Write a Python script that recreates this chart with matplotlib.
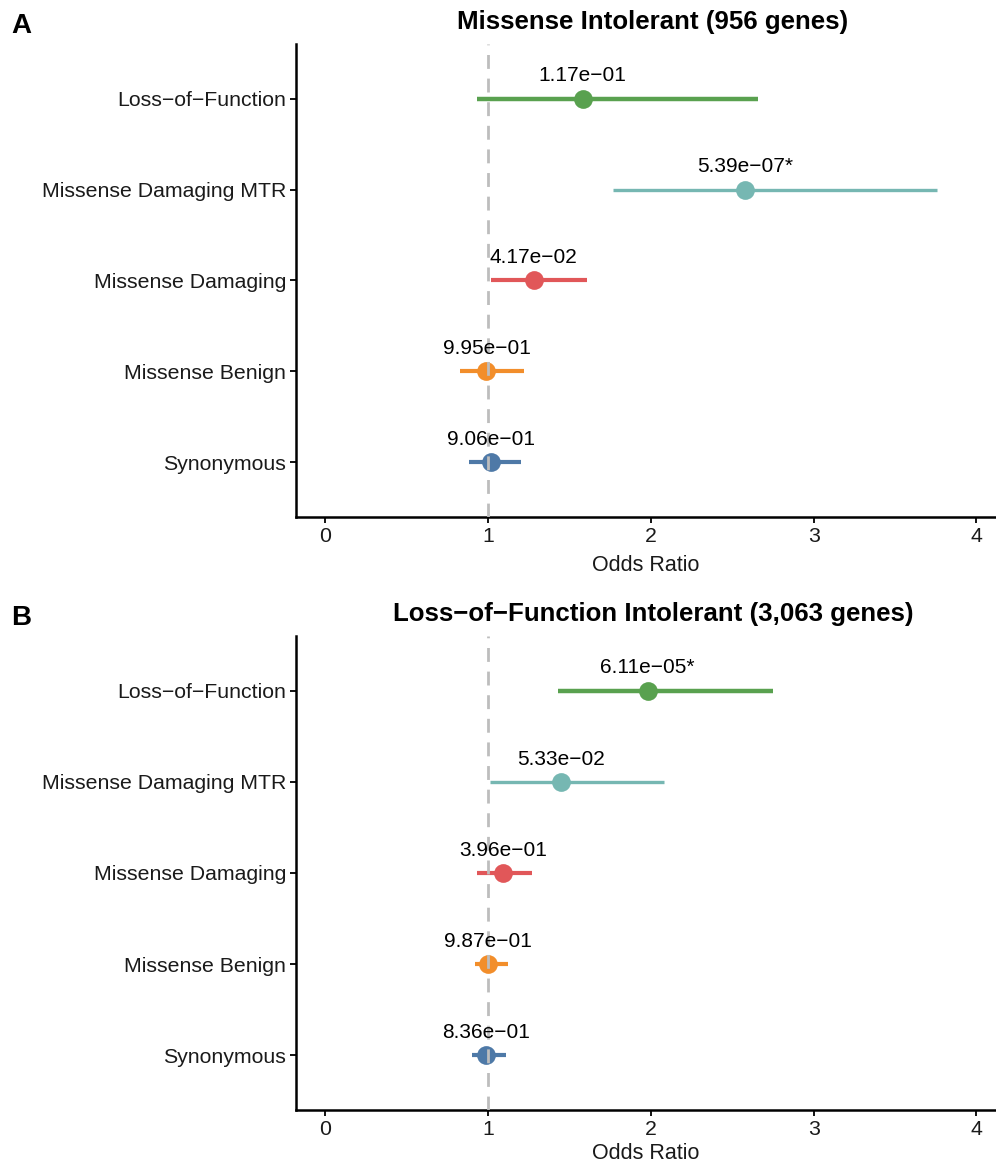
import matplotlib
matplotlib.use("Agg")
import matplotlib.pyplot as plt

plt.rcParams['font.family'] = ['Liberation Sans', 'DejaVu Sans']

categories = ["Synonymous", "Missense Benign", "Missense Damaging",
              "Missense Damaging MTR", "Loss-of-Function"]
colors = ["#4E79A7", "#F28E2B", "#E15759", "#76B7B2", "#59A14F"]

# Panel A: Missense Intolerant
titleA = "Missense Intolerant (956 genes)"
orA = [1.02, 0.99, 1.28, 2.58, 1.58]
loA = [0.88, 0.83, 1.02, 1.77, 0.93]
hiA = [1.20, 1.22, 1.61, 3.76, 2.66]
pA = ["9.06e−01", "9.95e−01", "4.17e−02", "5.39e−07*", "1.17e−01"]

# Panel B: Loss-of-Function Intolerant
titleB = "Loss−of−Function Intolerant (3,063 genes)"
orB = [0.99, 1.00, 1.09, 1.45, 1.98]
loB = [0.90, 0.92, 0.93, 1.01, 1.43]
hiB = [1.11, 1.12, 1.27, 2.08, 2.75]
pB = ["8.36e−01", "9.87e−01", "3.96e−01", "5.33e−02", "6.11e−05*"]

xticks = [0, 1, 2, 3, 4]
line_widths = [3.0, 3.0, 3.0, 2.4, 3.2]

fig = plt.figure(figsize=(9.96, 11.66), dpi=100)

W, H = 996, 1166
def add_ax(left, top, right, bottom):
    return fig.add_axes([left / W, 1 - bottom / H, (right - left) / W, (bottom - top) / H])

axA = add_ax(296, 44, 996, 517)
axB = add_ax(296, 636, 996, 1110)

labels_disp = [c.replace("-", "−") for c in categories]

def draw(ax, ors, los, his, ps, title, labelpad):
    ax.axvline(1, color="#BDBDBD", lw=2.0, ls=(0, (5, 3.5)), zorder=5)
    for i in range(len(categories)):
        y = i + 1
        ax.plot([los[i], his[i]], [y, y], color=colors[i], lw=line_widths[i],
                solid_capstyle='butt', zorder=2)
        ax.plot(ors[i], y, 'o', color=colors[i], ms=13.5, mec='none', zorder=3)
        ax.annotate(ps[i], (ors[i], y), xytext=(0, 9.5), textcoords='offset points',
                    ha='center', va='bottom', fontsize=15, color='black', zorder=6)
    ax.set_xlim(-0.18, 4.12)
    ax.set_ylim(0.4, 5.6)
    ax.set_yticks(range(1, len(categories) + 1))
    ax.set_yticklabels(labels_disp)
    ax.set_xticks(xticks)
    ax.set_xticklabels([str(t) for t in xticks])
    for s in ['top', 'right']:
        ax.spines[s].set_visible(False)
    for s in ['left', 'bottom']:
        ax.spines[s].set_linewidth(1.8)
    ax.tick_params(axis='both', which='major', length=4, width=1.3, labelsize=15.3,
                   colors='black', pad=3)
    ax.tick_params(axis='both', labelcolor='#1a1a1a')
    ax.set_xlabel("Odds Ratio", fontsize=15.5, color='#1a1a1a', labelpad=labelpad)
    ax.set_title(title, fontsize=18.6, fontweight='bold', pad=11, x=0.51)

draw(axA, orA, loA, hiA, pA, titleA, 7)
draw(axB, orB, loB, hiB, pB, titleB, 3)

fig.text(11 / W, 1 - 33 / H, "A", fontsize=20, fontweight='bold', ha='left', va='baseline')
fig.text(11 / W, 1 - 625 / H, "B", fontsize=20, fontweight='bold', ha='left', va='baseline')

fig.savefig("out.png", dpi=100)
